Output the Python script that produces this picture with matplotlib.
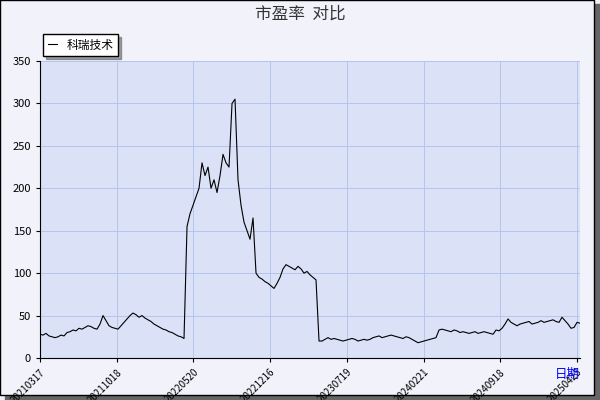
import matplotlib
matplotlib.use("Agg")
import matplotlib.pyplot as plt
from matplotlib.patches import Rectangle

plt.rcParams['font.family'] = ['Noto Sans CJK SC', 'DejaVu Sans']

tick_labels = ["20210317", "20211018", "20220520", "20221216", "20230719", "20240221", "20240918", "20250423"]
pe = [28,27,29,26,25,24,25,27,26,30,31,33,32,35,34,36,38,37,35,34,40,50,44,38,36,35,
      34,38,42,46,50,53,51,48,50,47,45,43,40,38,36,34,33,31,30,28,26,25,23,
      155,170,180,190,200,230,215,225,200,210,195,215,240,230,225,300,305,210,180,160,150,140,165,
      100,95,93,90,88,85,82,88,95,105,110,108,106,104,108,105,100,102,98,95,92,
      20,20,22,24,22,23,22,21,20,21,22,23,22,20,21,22,21,22,24,25,26,24,25,26,27,26,25,24,23,25,24,22,20,18,19,
      20,21,22,23,24,33,34,33,32,31,33,32,30,31,30,29,30,31,29,30,31,30,29,28,33,
      32,35,40,46,42,40,38,40,41,42,43,40,41,42,44,42,43,44,45,43,42,48,44,40,35,36,42,41]

fig = plt.figure(figsize=(6, 4), dpi=100, facecolor='#f2f3fa')
fig.patches.append(Rectangle((0.008, 0.0), 0.992, 0.99, transform=fig.transFigure, color='#666666', zorder=-2))
fig.patches.append(Rectangle((0.0, 0.012), 0.99, 0.988, transform=fig.transFigure, facecolor='#f2f3fa', edgecolor='black', lw=1, zorder=-1))

ax = fig.add_axes([0.0667, 0.105, 0.9, 0.7425])
ax.set_zorder(2)
ax.set_facecolor('#dbe1f6')
x = list(range(len(pe)))
ax.plot(x, pe, color='black', lw=0.8, label='科瑞技术')
ax.set_xlim(0, 180)
ax.set_ylim(0, 350)
ticks = [i * 179 / 7 for i in range(8)]
ax.set_xticks(ticks)
ax.set_xticklabels(tick_labels, rotation=45, ha='right', fontsize=7, rotation_mode='anchor')
ax.set_yticks(range(0, 351, 50))
ax.tick_params(axis='y', labelsize=8, length=3)
ax.tick_params(axis='x', length=3)
ax.grid(True, color='#b5c5ea', lw=0.7)
for s in ['top', 'right']:
    ax.spines[s].set_visible(False)
fig.text(0.5, 0.965, '市盈率  对比', ha='center', va='center', fontsize=12, color='#333333')
fig.text(0.925, 0.055, '日期', color='blue', fontsize=9, zorder=5)
leg = fig.legend(loc='upper left', bbox_to_anchor=(0.062, 0.93), fontsize=8.5, frameon=True,
                 fancybox=False, shadow=True, handlelength=0.8, borderpad=0.4)
leg.get_frame().set_edgecolor('black')
leg.set_zorder(5)
fig.savefig('out.png', dpi=100, facecolor=fig.get_facecolor())
